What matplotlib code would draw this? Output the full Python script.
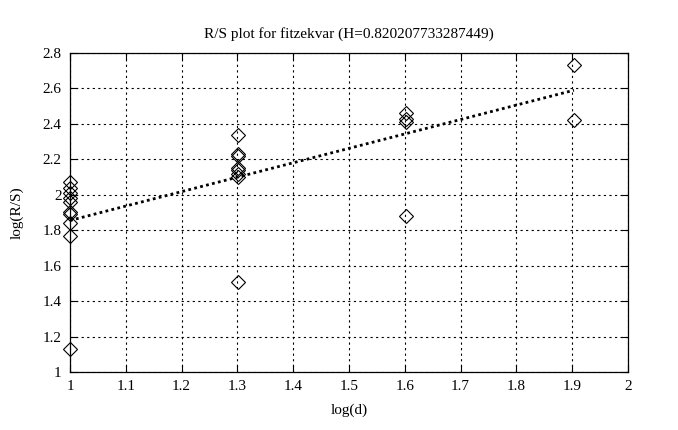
import matplotlib
matplotlib.use("Agg")
import matplotlib.pyplot as plt
import numpy as np

# точки R/S для каждого log(d)
x_d1 = [1.0] * 10
y_d1 = [2.07, 2.04, 2.01, 1.98, 1.96, 1.905, 1.89, 1.84, 1.77, 1.13]
x_d2 = [1.30103] * 8
y_d2 = [2.34, 2.23, 2.22, 2.15, 2.14, 2.12, 2.10, 1.51]
x_d3 = [1.60206] * 4
y_d3 = [2.46, 2.425, 2.41, 1.88]
x_d4 = [1.90309] * 2
y_d4 = [2.735, 2.42]

# линия регрессии (концы)
fit_x = [1.0, 1.90309]
fit_y = [1.855, 2.59]

x_ticks = [1, 1.1, 1.2, 1.3, 1.4, 1.5, 1.6, 1.7, 1.8, 1.9, 2]
x_labels = ["1", "1.1", "1.2", "1.3", "1.4", "1.5", "1.6", "1.7", "1.8", "1.9", "2"]
y_ticks = [1, 1.2, 1.4, 1.6, 1.8, 2, 2.2, 2.4, 2.6, 2.8]
y_labels = ["1", "1.2", "1.4", "1.6", "1.8", "2", "2.2", "2.4", "2.6", "2.8"]

plt.rcParams["font.family"] = ["Liberation Serif", "DejaVu Serif"]
plt.rcParams["font.size"] = 11

fig = plt.figure(figsize=(6.78, 4.30), dpi=100)
ax = fig.add_axes([70 / 678, 58 / 430, 558 / 678, 319 / 430])

xs = np.concatenate([x_d1, x_d2, x_d3, x_d4])
ys = np.concatenate([y_d1, y_d2, y_d3, y_d4])
ax.plot(xs, ys, linestyle="none", marker="D", markersize=7,
        markerfacecolor="none", markeredgecolor="black", markeredgewidth=0.8,
        clip_on=False, zorder=3)
ax.plot(fit_x, fit_y, color="black", linestyle=(0, (1, 1.2)), linewidth=2.0, zorder=2)

ax.set_xlim(1, 2)
ax.set_ylim(1, 2.8)
ax.set_xticks(x_ticks)
ax.set_xticklabels(x_labels)
ax.set_yticks(y_ticks)
ax.set_yticklabels(y_labels)
ax.grid(True, color="black", linestyle=(0, (2, 3)), linewidth=0.8)
ax.tick_params(direction="in", length=5, top=True, right=True, width=0.8, pad=6)
for s in ax.spines.values():
    s.set_linewidth(0.9)

ax.set_title("R/S plot for fitzekvar (H=0.820207733287449)", fontsize=11, pad=11)
ax.set_xlabel("log(d)", labelpad=7)
ax.set_ylabel("log(R/S)", labelpad=14)

fig.savefig("out.png", dpi=100)
